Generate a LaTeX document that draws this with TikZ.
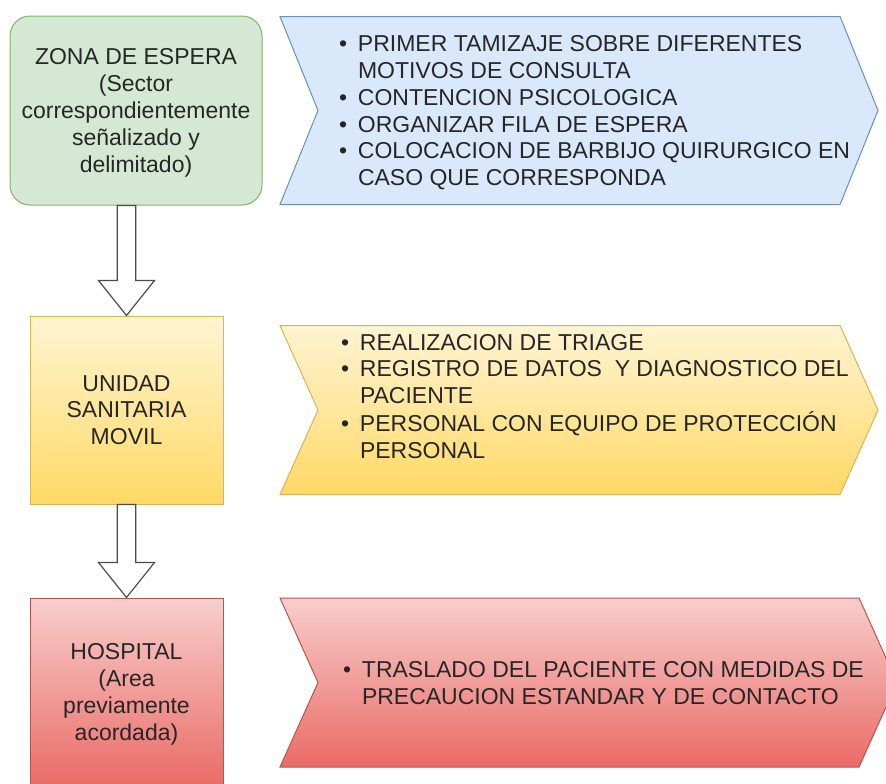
\documentclass[tikz,border=0pt]{standalone}
\usepackage{fontspec}
\setmainfont{Liberation Sans}
\usetikzlibrary{shapes.symbols, positioning}
\definecolor{grnfill}{HTML}{D5E8D4}
\definecolor{grnline}{HTML}{82B366}
\definecolor{blufill}{HTML}{DAE8FC}
\definecolor{bluline}{HTML}{6C8EBF}
\definecolor{yeltop}{HTML}{FFF4D2}
\definecolor{yelbot}{HTML}{FFD966}
\definecolor{yelline}{HTML}{D6B656}
\definecolor{redtop}{HTML}{F8CECC}
\definecolor{redbot}{HTML}{EA6B66}
\definecolor{redline}{HTML}{B85450}
\tikzset{
font=\fontsize{11.5}{13.4}\selectfont, % size of all texts
node distance=4cm,
text=black!85,
}
\tikzstyle{zone} = [rectangle, draw=grnline, fill=grnfill, rounded corners=10pt,
    minimum width=126pt, minimum height=94.5pt, align=center, inner sep=0pt,
    text depth=0pt, line width=0.5pt]
\tikzstyle{block} = [rectangle, minimum width=96.5pt, minimum height=94pt,
    align=center, inner sep=0pt, text depth=0pt, line width=0.5pt]
\tikzstyle{chev} = [signal, signal from=west, signal to=east, signal pointer angle=131.6,
    inner sep=0pt, text depth=1.2pt, line width=0.5pt]
\tikzstyle{hollow} = [draw=black!70, fill=white, line width=0.6pt, to path={
    ([xshift=-4.6pt]\tikztotarget.north |- \tikztostart.south)
    -- ([xshift=-4.6pt,yshift=17.5pt]\tikztotarget.north)
    -- ([xshift=-14pt,yshift=17.5pt]\tikztotarget.north)
    -- (\tikztotarget.north)
    -- ([xshift=14pt,yshift=17.5pt]\tikztotarget.north)
    -- ([xshift=4.6pt,yshift=17.5pt]\tikztotarget.north)
    -- ([xshift=4.6pt]\tikztotarget.north |- \tikztostart.south) -- cycle}]
\newcommand{\itm}{\makebox[9.5pt][l]{\textbullet}}
\newcommand{\nxt}{\hspace*{9.5pt}}
% text box narrower than the list, so the signal keeps its minimum width
\newcommand{\acciones}[2]{\makebox[#1][l]{\begin{tabular}[b]{@{}l@{}}#2\end{tabular}}}

\begin{document}
\begin{tikzpicture}
\clip (0,0) rectangle (443pt,-391.5pt);
\fill [white] (0,0) rectangle (443pt,-391.5pt);
\node [zone] (espera) at (68pt,-55.25pt) {ZONA DE ESPERA\\(Sector\\correspondientemente\\señalizado y\\delimitado)};
\node [chev, draw=bluline, fill=blufill, signal pointer angle=136, minimum width=299pt, minimum height=94pt, right of=espera, node distance=221.5pt] (acc1) {\acciones{240pt}{%
\itm PRIMER TAMIZAJE SOBRE DIFERENTES\\
\nxt MOTIVOS DE CONSULTA\\
\itm CONTENCION PSICOLOGICA\\
\itm ORGANIZAR FILA DE ESPERA\\
\itm COLOCACION DE BARBIJO QUIRURGICO EN\\
\nxt CASO QUE CORRESPONDA}};
\node [block, draw=yelline, top color=yeltop, bottom color=yelbot, below of=espera, node distance=149.75pt, xshift=-4.75pt] (movil) {UNIDAD\\SANITARIA\\MOVIL};
\node [chev, draw=yelline, top color=yeltop, bottom color=yelbot, text depth=15.2pt, minimum width=299pt, minimum height=84.5pt, right of=movil, node distance=226.25pt] (acc2) {\acciones{238pt}{%
\itm REALIZACION DE TRIAGE\\
\itm REGISTRO DE DATOS\ \ Y DIAGNOSTICO DEL\\
\nxt PACIENTE\\
\itm PERSONAL CON EQUIPO DE PROTECCIÓN\\
\nxt PERSONAL}};
\node [block, draw=redline, top color=redtop, bottom color=redbot, below of=movil, node distance=141pt] (hosp) {HOSPITAL\\(Area\\previamente\\acordada)};
\node [chev, draw=redline, top color=redtop, bottom color=redbot, minimum width=308.5pt, minimum height=84.5pt, right of=hosp, node distance=231pt, yshift=4.75pt] (acc3) {\acciones{245.5pt}{%
\itm TRASLADO DEL PACIENTE CON MEDIDAS DE\\
\nxt PRECAUCION ESTANDAR Y DE CONTACTO}};

  \path [hollow] (espera) to (movil);
  \path [hollow] (movil) to (hosp);
\end{tikzpicture}
\end{document}
